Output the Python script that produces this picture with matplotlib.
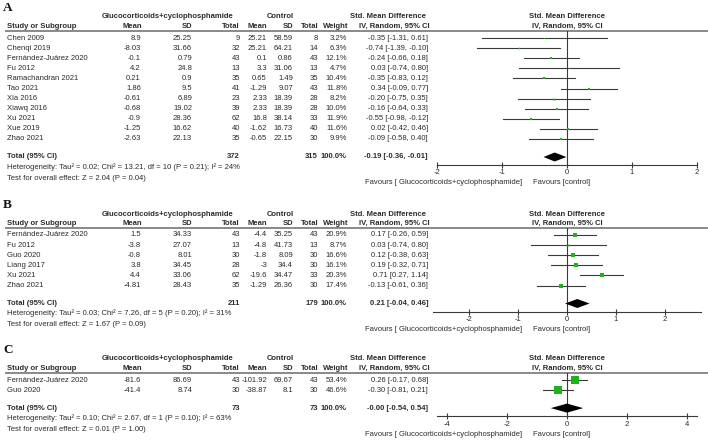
import matplotlib.pyplot as plt

plt.rcParams["font.family"] = ["Liberation Sans", "DejaVu Sans"]
plt.rcParams["axes.unicode_minus"] = False

W, H = 708, 440

TXT = "#2b2b2b"
GRID = "#808080"
CI_COL = "#3a3a3a"
GREEN = "#1db31d"
FS = 5.5

# ---- panel A ----
A_STUDY = ["Chen 2009", "Chenqi 2019", "Fernández-Juárez 2020", "Fu 2012",
           "Ramachandran 2021", "Tao 2021", "Xia 2016", "Xiawq 2016",
           "Xu 2021", "Xue 2019", "Zhao 2021"]
A_MEAN_T = [8.9, -8.03, -0.1, 4.2, 0.21, 1.86, -0.61, -0.68, -0.9, -1.25, -2.63]
A_SD_T = [25.25, 31.66, 0.79, 24.8, 0.9, 9.5, 6.89, 19.02, 28.36, 16.62, 22.13]
A_N_T = [9, 32, 43, 13, 35, 41, 23, 39, 62, 40, 35]
A_MEAN_C = [25.21, 25.21, 0.1, 3.3, 0.65, -1.29, 2.33, 2.33, 16.8, -1.62, -0.65]
A_SD_C = [58.59, 64.21, 0.86, 31.06, 1.49, 9.07, 18.39, 18.39, 38.14, 16.73, 22.15]
A_N_C = [8, 14, 43, 13, 35, 43, 28, 28, 33, 40, 30]
A_WEIGHT = [3.2, 6.3, 12.1, 4.7, 10.4, 11.8, 8.2, 10.0, 11.9, 11.6, 9.9]
A_SMD = [-0.35, -0.74, -0.24, 0.03, -0.35, 0.34, -0.20, -0.16, -0.55, 0.02, -0.09]
A_LO = [-1.31, -1.39, -0.66, -0.74, -0.83, -0.09, -0.75, -0.64, -0.98, -0.42, -0.58]
A_HI = [0.61, -0.10, 0.18, 0.80, 0.12, 0.77, 0.35, 0.33, -0.12, 0.46, 0.40]
A_TOTAL = (372, 315, -0.19, -0.36, -0.01)
A_HET = "Heterogeneity: Tau² = 0.02; Chi² = 13.21, df = 10 (P = 0.21); I² = 24%"
A_TEST = "Test for overall effect: Z = 2.04 (P = 0.04)"

# ---- panel B ----
B_STUDY = ["Fernández-Juárez 2020", "Fu 2012", "Guo 2020", "Liang 2017",
           "Xu 2021", "Zhao 2021"]
B_MEAN_T = [1.5, -3.8, -0.8, 3.8, 4.4, -4.81]
B_SD_T = [34.33, 27.07, 8.01, 34.45, 33.06, 28.43]
B_N_T = [43, 13, 30, 28, 62, 35]
B_MEAN_C = [-4.4, -4.8, -1.8, -3, -19.6, -1.29]
B_SD_C = [35.25, 41.73, 8.09, 34.4, 34.47, 26.36]
B_N_C = [43, 13, 30, 30, 33, 30]
B_WEIGHT = [20.9, 8.7, 16.6, 16.1, 20.3, 17.4]
B_SMD = [0.17, 0.03, 0.12, 0.19, 0.71, -0.13]
B_LO = [-0.26, -0.74, -0.38, -0.32, 0.27, -0.61]
B_HI = [0.59, 0.80, 0.63, 0.71, 1.14, 0.36]
B_TOTAL = (211, 179, 0.21, -0.04, 0.46)
B_HET = "Heterogeneity: Tau² = 0.03; Chi² = 7.26, df = 5 (P = 0.20); I² = 31%"
B_TEST = "Test for overall effect: Z = 1.67 (P = 0.09)"

# ---- panel C ----
C_STUDY = ["Fernández-Juárez 2020", "Guo 2020"]
C_MEAN_T = [-81.6, -41.4]
C_SD_T = [86.69, 8.74]
C_N_T = [43, 30]
C_MEAN_C = [-101.92, -38.87]
C_SD_C = [69.67, 8.1]
C_N_C = [43, 30]
C_WEIGHT = [53.4, 46.6]
C_SMD = [0.26, -0.30]
C_LO = [-0.17, -0.81]
C_HI = [0.68, 0.21]
C_TOTAL = (73, 73, -0.0, -0.54, 0.54)
C_HET = "Heterogeneity: Tau² = 0.10; Chi² = 2.67, df = 1 (P = 0.10); I² = 63%"
C_TEST = "Test for overall effect: Z = 0.01 (P = 1.00)"

A_TICKS = [-2, -1, 0, 1, 2]
B_TICKS = [-2, -1, 0, 1, 2]
C_TICKS = [-4, -2, 0, 2, 4]

panels = [
    dict(label="A", L=31, study=A_STUDY, mt=A_MEAN_T, st=A_SD_T, nt=A_N_T,
         mc=A_MEAN_C, sc=A_SD_C, nc=A_N_C, w=A_WEIGHT, smd=A_SMD, lo=A_LO, hi=A_HI,
         tot=A_TOTAL, het=A_HET, test=A_TEST, ticks=A_TICKS,
         ax_x=(437, 697), xlim=(-2.0, 2.0)),
    dict(label="B", L=228, study=B_STUDY, mt=B_MEAN_T, st=B_SD_T, nt=B_N_T,
         mc=B_MEAN_C, sc=B_SD_C, nc=B_N_C, w=B_WEIGHT, smd=B_SMD, lo=B_LO, hi=B_HI,
         tot=B_TOTAL, het=B_HET, test=B_TEST, ticks=B_TICKS,
         ax_x=(433, 701), xlim=(-2.73, 2.73)),
    dict(label="C", L=373, study=C_STUDY, mt=C_MEAN_T, st=C_SD_T, nt=C_N_T,
         mc=C_MEAN_C, sc=C_SD_C, nc=C_N_C, w=C_WEIGHT, smd=C_SMD, lo=C_LO, hi=C_HI,
         tot=C_TOTAL, het=C_HET, test=C_TEST, ticks=C_TICKS,
         ax_x=(437, 697), xlim=(-4.33, 4.33)),
]

# column right edges (px)
X_STUDY = 7
X_MT, X_ST, X_NT = 141, 192, 240
X_MC, X_SC, X_NC = 267, 293, 318
X_W, X_CI = 347, 428
X_ZERO = 567

fig = plt.figure(figsize=(W / 100, H / 100), dpi=100)
bg = fig.add_axes([0, 0, 1, 1])
bg.set_xlim(0, W)
bg.set_ylim(H, 0)
bg.axis("off")


def g(v):
    return f"{v:g}"


def put(x, y, s, ha="right", bold=False, size=FS, va="center"):
    bg.text(x, y, s, ha=ha, va=va, fontsize=size, color=TXT,
            fontweight="bold" if bold else "normal")


for p in panels:
    L = p["L"]
    n = len(p["study"])
    rows = [L + 7 + 10.1 * i for i in range(n)]
    y_tot = rows[-1] + 18
    y_axis = y_tot + 8

    bg.text(3, L - 23, p["label"], fontsize=9.5, fontweight="bold",
            family="Liberation Serif", va="center", ha="left", color="#111111")

    # group headers
    put(168, L - 14, "Glucocorticoids+cyclophosphamide", ha="center", bold=True)
    put(280, L - 14, "Control", ha="center", bold=True)
    put(388, L - 14, "Std. Mean Difference", ha="center", bold=True)
    put(X_ZERO, L - 14, "Std. Mean Difference", ha="center", bold=True)

    yh = L - 4.5
    put(X_STUDY, yh, "Study or Subgroup", ha="left", bold=True)
    for x, s in [(X_MT + 1, "Mean"), (X_ST, "SD"), (X_NT, "Total"),
                 (X_MC, "Mean"), (X_SC, "SD"), (X_NC + 1, "Total"),
                 (X_W + 1, "Weight"), (X_CI + 2, "IV, Random, 95% CI")]:
        put(x, yh, s, bold=True)
    put(X_ZERO, yh, "IV, Random, 95% CI", ha="center", bold=True)
    bg.plot([5, W], [L, L], color=GRID, lw=1.3, solid_capstyle="butt")

    for i, y in enumerate(rows):
        put(X_STUDY, y, p["study"][i], ha="left")
        put(X_MT, y, g(p["mt"][i]))
        put(X_ST, y, g(p["st"][i]))
        put(X_NT, y, g(p["nt"][i]))
        put(X_MC, y, g(p["mc"][i]))
        put(X_SC, y, g(p["sc"][i]))
        put(X_NC, y, g(p["nc"][i]))
        put(X_W, y, f"{p['w'][i]:.1f}%")
        put(X_CI, y, f"{p['smd'][i]:.2f} [{p['lo'][i]:.2f}, {p['hi'][i]:.2f}]")

    nt_tot, nc_tot, est, lo, hi = p["tot"]
    put(X_STUDY, y_tot, "Total (95% CI)", ha="left", bold=True)
    put(X_NT, y_tot, str(nt_tot), bold=True)
    put(X_NC, y_tot, str(nc_tot), bold=True)
    put(X_W, y_tot, "100.0%", bold=True)
    put(X_CI, y_tot, f"{est:.2f} [{lo:.2f}, {hi:.2f}]", bold=True)
    put(X_STUDY, y_tot + 10, p["het"], ha="left")
    put(X_STUDY, y_tot + 21, p["test"], ha="left")

    put(522, y_axis + 18, "Favours [ Glucocorticoids+cyclophosphamide]")
    put(533, y_axis + 18, "Favours [control]", ha="left")

    # forest axes, y in pixel units so rows line up with the table
    x0, x1 = p["ax_x"]
    ax = fig.add_axes([x0 / W, 1 - y_axis / H, (x1 - x0) / W, (y_axis - L) / H])
    ax.patch.set_alpha(0)
    ax.set_xlim(*p["xlim"])
    ax.set_ylim(y_axis, L)
    for s in ["top", "left", "right"]:
        ax.spines[s].set_visible(False)
    ax.spines["bottom"].set_color(CI_COL)
    ax.spines["bottom"].set_linewidth(0.8)
    ax.set_yticks([])
    ax.set_xticks(p["ticks"])
    ax.set_xticklabels([str(t) for t in p["ticks"]])
    ax.tick_params(axis="x", direction="inout", length=4, width=0.8,
                   colors=CI_COL, labelcolor=TXT, labelsize=FS, pad=1.2)
    ax.axvline(0, color=CI_COL, lw=0.8, zorder=1)

    for i, y in enumerate(rows):
        ax.plot([p["lo"][i], p["hi"][i]], [y, y], color=CI_COL, lw=0.8,
                zorder=2, clip_on=False)
        # box side grows with study weight
        ax.plot(p["smd"][i], y, marker="s", color=GREEN, mec=GREEN, mew=0,
                ms=0.25 * p["w"][i] ** 0.8, zorder=3, clip_on=False)

    ax.fill([lo, est, hi, est], [y_tot, y_tot - 4.5, y_tot, y_tot + 4.5],
            color="black", lw=0, zorder=3, clip_on=False)

fig.savefig("out.png", dpi=100)
